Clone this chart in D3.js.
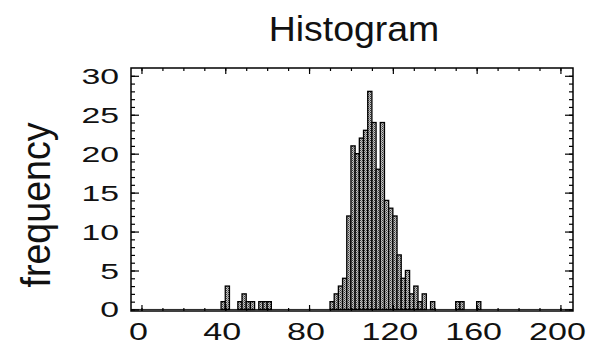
<!DOCTYPE html>
<html>
<head>
<meta charset="utf-8">
<script src="https://cdn.jsdelivr.net/npm/d3@7"></script>
<style>
  html, body { margin: 0; padding: 0; background: #fff; }
  svg { display: block; }
  text { font-family: "Liberation Sans", Arial, Helvetica, sans-serif; fill: #111; }
</style>
</head>
<body>
<svg id="chart" width="595" height="348"></svg>
<script>
// Left edge of each non-empty bin (bin width 2) and its count
const binLeft   = [38, 40, 46, 48, 50, 52, 56, 58, 60,
                   90, 92, 94, 96, 98, 100, 102, 104, 106, 108, 110, 112, 114,
                   116, 118, 120, 122, 124, 126, 128, 130, 132, 134, 138,
                   150, 152, 160];
const frequency = [1, 3, 1, 2, 1, 1, 1, 1, 1,
                   1, 2, 3, 4, 12, 21, 20, 22, 23, 28, 24, 18, 24,
                   14, 13, 12, 7, 4, 5, 2, 3, 1, 2, 1,
                   1, 1, 1];
const binWidth = 2;

const xMajor = [0, 40, 80, 120, 160, 200];
const xMinor = d3.range(0, 201, 10);
const yMajor = [0, 5, 10, 15, 20, 25, 30];
const yMinor = d3.range(0, 31, 1);

const svg = d3.select("#chart");
const frame = { left: 131, right: 573, top: 68, bottom: 311 };

const x = d3.scaleLinear().domain([-5, 206]).range([frame.left, frame.right]);
const y = d3.scaleLinear().domain([-0.2, 31]).range([frame.bottom, frame.top]);

// stippled grey fill for the bars
const defs = svg.append("defs");
const pat = defs.append("pattern").attr("id", "stipple")
  .attr("patternUnits", "userSpaceOnUse").attr("width", 2).attr("height", 2);
pat.append("rect").attr("width", 2).attr("height", 2).attr("fill", "#c4c4c4");
pat.append("rect").attr("width", 1).attr("height", 1).attr("fill", "#3a3a3a");
pat.append("rect").attr("x", 1).attr("y", 1).attr("width", 1).attr("height", 1).attr("fill", "#7a7a7a");

// title
svg.append("text")
  .attr("transform", "translate(354,41) scale(1.07,1)")
  .attr("text-anchor", "middle")
  .attr("font-size", 35)
  .text("Histogram");

// y-axis title, rotated and condensed
svg.append("text")
  .attr("transform", "translate(50,205) rotate(-90)")
  .attr("text-anchor", "middle")
  .attr("font-size", 41)
  .attr("textLength", 165)
  .attr("lengthAdjust", "spacingAndGlyphs")
  .text("frequency");

// zero line across the plot
svg.append("line")
  .attr("x1", frame.left).attr("x2", frame.right)
  .attr("y1", y(0)).attr("y2", y(0))
  .attr("stroke", "#222").attr("stroke-width", 1);

// bars
svg.append("g").selectAll("rect")
  .data(binLeft.map((b, i) => ({ b, n: frequency[i] })))
  .join("rect")
  .attr("x", d => x(d.b))
  .attr("width", d => x(d.b + binWidth) - x(d.b))
  .attr("y", d => y(d.n))
  .attr("height", d => y(0) - y(d.n))
  .attr("fill", "url(#stipple)")
  .attr("stroke", "#000")
  .attr("stroke-width", 1.3);

// inward ticks on all four sides
function ticks(axis, values, size, tx, ty) {
  svg.append("g")
    .attr("transform", `translate(${tx},${ty})`)
    .call(axis.tickValues(values).tickSize(size).tickFormat(""))
    .call(g => g.select(".domain").remove())
    .call(g => g.selectAll("line").attr("stroke", "#000").attr("stroke-width", 1.2));
}
ticks(d3.axisBottom(x), xMinor, -3, 0, frame.bottom);
ticks(d3.axisBottom(x), xMajor, -6, 0, frame.bottom);
ticks(d3.axisTop(x), xMinor, -3, 0, frame.top);
ticks(d3.axisTop(x), xMajor, -6, 0, frame.top);
ticks(d3.axisLeft(y), yMinor, -4, frame.left, 0);
ticks(d3.axisLeft(y), yMajor, -8, frame.left, 0);
ticks(d3.axisRight(y), yMinor, -4, frame.right, 0);
ticks(d3.axisRight(y), yMajor, -8, frame.right, 0);

// frame
svg.append("rect")
  .attr("x", frame.left).attr("y", frame.top)
  .attr("width", frame.right - frame.left).attr("height", frame.bottom - frame.top)
  .attr("fill", "none").attr("stroke", "#000").attr("stroke-width", 1.5);

// tick labels (wide face)
svg.append("g").selectAll("text")
  .data(xMajor).join("text")
  .attr("transform", d => `translate(${x(d) - 3},340) scale(1.42,1)`)
  .attr("text-anchor", "middle")
  .attr("font-size", 24)
  .text(d => d);

svg.append("g").selectAll("text")
  .data(yMajor).join("text")
  .attr("transform", d => `translate(119,${y(d) + 8}) scale(1.5,1)`)
  .attr("text-anchor", "end")
  .attr("font-size", 22.5)
  .text(d => d);
</script>
</body>
</html>
